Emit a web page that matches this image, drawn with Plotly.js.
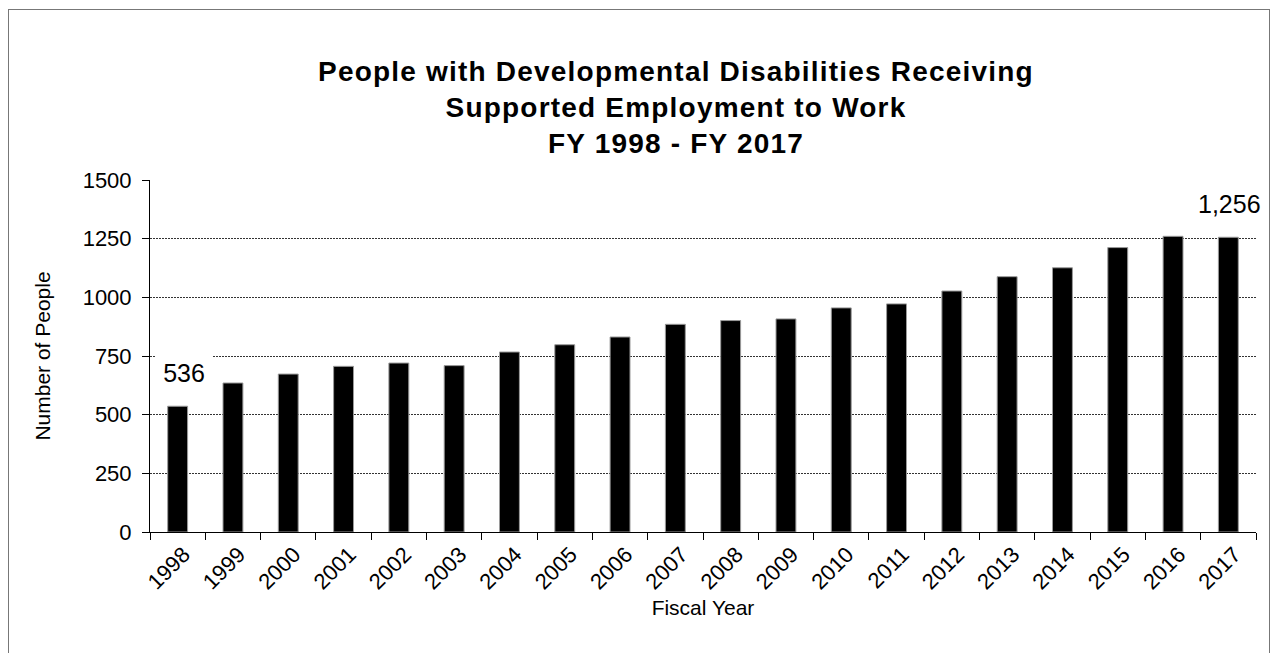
<!DOCTYPE html>
<html>
<head>
<meta charset="utf-8">
<script src="https://cdn.plot.ly/plotly-3.0.1.min.js"></script>
<style>
  html, body { margin: 0; padding: 0; background: #fff; }
  #wrap { position: relative; width: 1278px; height: 653px; overflow: hidden; }
  #chart { width: 1278px; height: 653px; }
  #frame { position: absolute; left: 8px; top: 9px; width: 1262px; height: 680px;
           border: 1.5px solid #777; pointer-events: none; box-sizing: border-box; }
  #chart .gtitle { letter-spacing: 1.2px; }
</style>
</head>
<body>
<div id="wrap">
  <div id="chart"></div>
  <div id="frame"></div>
</div>
<script>
const years = ['1998','1999','2000','2001','2002','2003','2004','2005','2006','2007',
               '2008','2009','2010','2011','2012','2013','2014','2015','2016','2017'];
const people = [536, 635, 673, 706, 720, 709, 767, 798, 831, 885,
                901, 908, 955, 972, 1027, 1088, 1126, 1212, 1260, 1256];
const labelledYears = ['1998', '2017'];
const yTicks = [0, 250, 500, 750, 1000, 1250, 1500];

const FONT = 'Liberation Sans, Arial, sans-serif';

const annotations = labelledYears.map((yr, k) => {
  const i = years.indexOf(yr);
  return {
    x: i, y: people[i], xref: 'x', yref: 'y',
    text: people[i].toLocaleString('en-US'),
    showarrow: false,
    font: { family: FONT, size: 25, color: '#000' },
    xanchor: 'center', yanchor: 'middle',
    yshift: 33,
    xshift: k === 0 ? 6 : 1,
    borderpad: 0,
    bgcolor: k === 0 ? '#ffffff' : 'rgba(0,0,0,0)',
    width: k === 0 ? 56 : null,
    height: k === 0 ? 44 : null
  };
});

const trace = {
  type: 'bar',
  x: years,
  y: people,
  width: 0.36,
  marker: { color: '#000000', line: { color: '#9a9a9a', width: 1 } },
  hoverinfo: 'x+y'
};

const layout = {
  width: 1278, height: 653,
  paper_bgcolor: '#ffffff', plot_bgcolor: '#ffffff',
  margin: { l: 150, r: 22, t: 180, b: 121, pad: 0, autoexpand: false },
  showlegend: false,
  title: {
    text: '<b>People with Developmental Disabilities Receiving<br>Supported Employment to Work<br>FY 1998 - FY 2017</b>',
    font: { family: FONT, size: 28, color: '#000' },
    x: 0.4756, xanchor: 'center', xref: 'paper',
    y: 0.8766, yanchor: 'top'
  },
  xaxis: {
    type: 'category',
    range: [-0.5, years.length - 0.5],
    autorange: false,
    automargin: false,
    tickangle: -45,
    tickfont: { family: FONT, size: 22, color: '#000' },
    ticks: 'outside', tickson: 'boundaries', ticklen: 7, tickcolor: '#000', tickwidth: 1,
    ticklabelshift: 6,
    showline: true, linecolor: '#000', linewidth: 1,
    showgrid: false,
    title: { text: 'Fiscal Year', font: { family: FONT, size: 21, color: '#000' }, standoff: 6 }
  },
  yaxis: {
    range: [0, 1500],
    autorange: false,
    automargin: false,
    tickvals: yTicks,
    ticktext: yTicks.map(String),
    tickfont: { family: FONT, size: 22, color: '#000' },
    ticks: 'outside', ticklen: 7, tickcolor: '#000', tickwidth: 1,
    ticklabelstandoff: 6,
    showline: true, linecolor: '#000', linewidth: 1,
    showgrid: true, gridcolor: '#333', gridwidth: 1, griddash: '2px,1px',
    zeroline: false,
    title: { text: 'Number of People', font: { family: FONT, size: 21, color: '#000' }, standoff: 26 }
  },
  annotations: annotations
};

Plotly.newPlot('chart', [trace], layout, { displayModeBar: false, staticPlot: true });
</script>
</body>
</html>
